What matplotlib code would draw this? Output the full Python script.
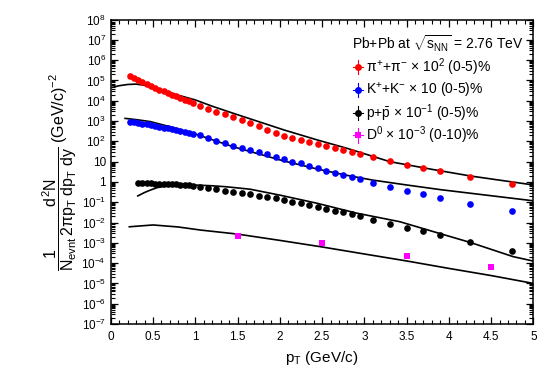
import numpy as np
import matplotlib
matplotlib.use("Agg")
import matplotlib.pyplot as plt
from matplotlib.ticker import FixedLocator, FuncFormatter, MultipleLocator

plt.rcParams['font.family'] = ['Liberation Sans', 'DejaVu Sans']
plt.rcParams['mathtext.fontset'] = 'custom'
plt.rcParams['mathtext.rm'] = 'Liberation Sans'
plt.rcParams['mathtext.it'] = 'Liberation Sans'
plt.rcParams['mathtext.bf'] = 'Liberation Sans:bold'

# data points (log10 of yield, scaled)
pt_lo = [0.225, 0.275, 0.325, 0.375, 0.425, 0.475, 0.525, 0.575, 0.625, 0.675,
         0.725, 0.775, 0.825, 0.875, 0.925, 0.975]
pt_hi = [1.05, 1.15, 1.25, 1.35, 1.45, 1.55, 1.65, 1.75, 1.85, 1.95,
         2.05, 2.15, 2.25, 2.35, 2.45, 2.55, 2.65, 2.75, 2.85, 2.95,
         3.1, 3.3, 3.5, 3.7, 3.9, 4.25, 4.75]

pion_pt = pt_lo + pt_hi
pion_log = [5.22, 5.12, 5.02, 4.92, 4.82, 4.73, 4.64, 4.55, 4.46, 4.38,
            4.29, 4.21, 4.13, 4.05, 3.97, 3.89,
            3.76, 3.60, 3.46, 3.33, 3.19, 3.05, 2.90, 2.74, 2.56, 2.41,
            2.28, 2.18, 2.08, 1.97, 1.86, 1.77, 1.68, 1.57, 1.48, 1.38,
            1.22, 1.04, 0.85, 0.67, 0.52, 0.23, -0.10]

kaon_pt = pt_lo + pt_hi
kaon_log = [2.94, 2.93, 2.90, 2.87, 2.83, 2.80, 2.76, 2.72, 2.68, 2.64,
            2.59, 2.55, 2.51, 2.46, 2.42, 2.37,
            2.30, 2.16, 2.03, 1.90, 1.78, 1.69, 1.57, 1.46, 1.36, 1.24,
            1.13, 1.00, 0.92, 0.80, 0.68, 0.55, 0.45, 0.36, 0.26, 0.14,
            -0.04, -0.24, -0.43, -0.60, -0.78, -1.07, -1.43]

proton_pt = pt_lo[2:] + pt_hi
proton_log = [-0.07, -0.07, -0.07, -0.07, -0.08, -0.08, -0.09, -0.10,
              -0.11, -0.12, -0.13, -0.15, -0.17, -0.19,
              -0.27, -0.31, -0.36, -0.43, -0.50, -0.55, -0.61, -0.67, -0.74, -0.81,
              -0.91, -0.97, -1.05, -1.15, -1.22, -1.32, -1.43, -1.50, -1.60, -1.70,
              -1.87, -2.05, -2.25, -2.43, -2.63, -2.96, -3.39]

d0_pt = [1.5, 2.5, 3.5, 4.5]
d0_log = [-2.65, -3.03, -3.65, -4.18]

# model curves
pion_c_pt = [0.02, 0.1, 0.2, 0.3, 0.4, 0.5, 0.6, 0.8, 1.0, 1.2, 1.45, 1.75,
             2.05, 2.45, 2.8, 3.3, 3.8, 4.26, 5.0]
pion_c_log = [4.66, 4.74, 4.80, 4.82, 4.76, 4.63, 4.50, 4.27, 4.04, 3.73, 3.38, 2.97,
              2.56, 2.06, 1.65, 1.00, 0.62, 0.29, -0.15]

kaon_c_pt = [0.17, 0.3, 0.47, 0.7, 0.98, 1.2, 1.45, 1.75, 2.04, 2.46, 2.8,
             3.1, 3.5, 3.9, 4.26, 4.76, 5.0]
kaon_c_log = [3.13, 3.07, 2.97, 2.72, 2.39, 2.08, 1.73, 1.38, 1.04, 0.62, 0.32,
              0.09, -0.15, -0.38, -0.56, -0.81, -0.93]

proton_c_pt = [0.32, 0.4, 0.47, 0.55, 0.66, 0.8, 0.98, 1.2, 1.37, 1.65, 2.0,
               2.44, 2.9, 3.42, 3.9, 4.26, 4.76, 5.0]
proton_c_log = [-0.69, -0.52, -0.40, -0.28, -0.20, -0.16, -0.15, -0.19, -0.24, -0.36,
                -0.65, -1.05, -1.53, -1.96, -2.55, -2.99, -3.68, -3.9]

d0_c_pt = [0.22, 0.5, 0.8, 1.06, 1.5, 2.0, 2.48, 3.0, 3.51, 4.0, 4.51, 5.0]
d0_c_log = [-2.21, -2.12, -2.22, -2.37, -2.57, -2.88, -3.19, -3.55, -3.90, -4.26,
            -4.62, -5.0]

legend_labels = [r'$\pi^{+}$+$\pi^{-}$ $\times$ 10$^{2}$ (0-5)%',
                 r'K$^{+}$+K$^{-}$ $\times$ 10 (0-5)%',
                 r'p+$\bar{\rm p}$ $\times$ 10$^{-1}$ (0-5)%',
                 r'D$^{0}$ $\times$ 10$^{-3}$ (0-10)%']
colors = ['#ff0000', '#0000ff', '#000000', '#ff00ff']
markers = ['o', 'o', 'o', 's']

fig = plt.figure(figsize=(5.51, 3.83), dpi=100)
ax = fig.add_axes([0.201, 0.154, 0.767, 0.795])

for cx, cy in [(pion_c_pt, pion_c_log), (kaon_c_pt, kaon_c_log),
               (proton_c_pt, proton_c_log), (d0_c_pt, d0_c_log)]:
	ax.plot(cx, 10 ** np.array(cy), color='black', lw=1.2)

series = [(pion_pt, pion_log), (kaon_pt, kaon_log), (proton_pt, proton_log), (d0_pt, d0_log)]
for (px, py), c, m in zip(series, colors, markers):
	ax.plot(px, 10 ** np.array(py), ls='none', marker=m, color=c, ms=4.8, mew=0)

ax.set_yscale('log')
ax.set_xlim(0, 5)
ax.set_ylim(1e-7, 1e8)
ax.xaxis.set_major_locator(MultipleLocator(0.5))
ax.xaxis.set_minor_locator(MultipleLocator(0.1))
ax.xaxis.set_major_formatter(FuncFormatter(lambda v, p: '%g' % v))
ax.yaxis.set_major_locator(FixedLocator([10.0 ** e for e in range(-7, 9)]))
minors = [m * 10.0 ** e for e in range(-7, 8) for m in range(2, 10)]
ax.yaxis.set_minor_locator(FixedLocator(minors))

def yfmt(v, p):
	e = int(round(np.log10(v)))
	if e == 0:
		return '1'
	if e == 1:
		return '10'
	return r'10$^{%d}$' % e
ax.yaxis.set_major_formatter(FuncFormatter(yfmt))

ax.tick_params(which='both', direction='in', top=True, right=True, labelsize=8.5)
ax.tick_params(which='major', length=5, width=0.9)
ax.tick_params(which='minor', length=2.8, width=0.8)
ax.tick_params(axis='x', pad=5)
for s in ax.spines.values():
	s.set_linewidth(1.1)

ax.set_xlabel(r'p$_{\rm T}$ (GeV/c)', fontsize=11)
ax.set_ylabel(r'$\dfrac{1}{N_{\rm evnt}}\dfrac{d^{2}N}{2\pi p_{\rm T}\ dp_{\rm T}\ dy}$ (GeV/c)$^{-2}$',
              fontsize=11.5, labelpad=2)

ax.text(0.571, 0.92, r'Pb+Pb at $\sqrt{s_{\rm NN}}$ = 2.76 TeV', transform=ax.transAxes,
        fontsize=10, va='center')
ys = [0.844, 0.768, 0.693, 0.62]
for lab, c, m, yy in zip(legend_labels, colors, markers, ys):
	ax.plot([0.585], [yy], marker=m, color=c, ms=5, mew=0, transform=ax.transAxes, clip_on=False)
	ax.plot([0.574, 0.596], [yy, yy], color=c, lw=0.8, transform=ax.transAxes)
	ax.plot([0.585, 0.585], [yy - 0.024, yy + 0.024], color=c, lw=0.8, transform=ax.transAxes)
	ax.text(0.604, yy, lab, transform=ax.transAxes, fontsize=10, va='center')

fig.savefig('out.png', dpi=100)
